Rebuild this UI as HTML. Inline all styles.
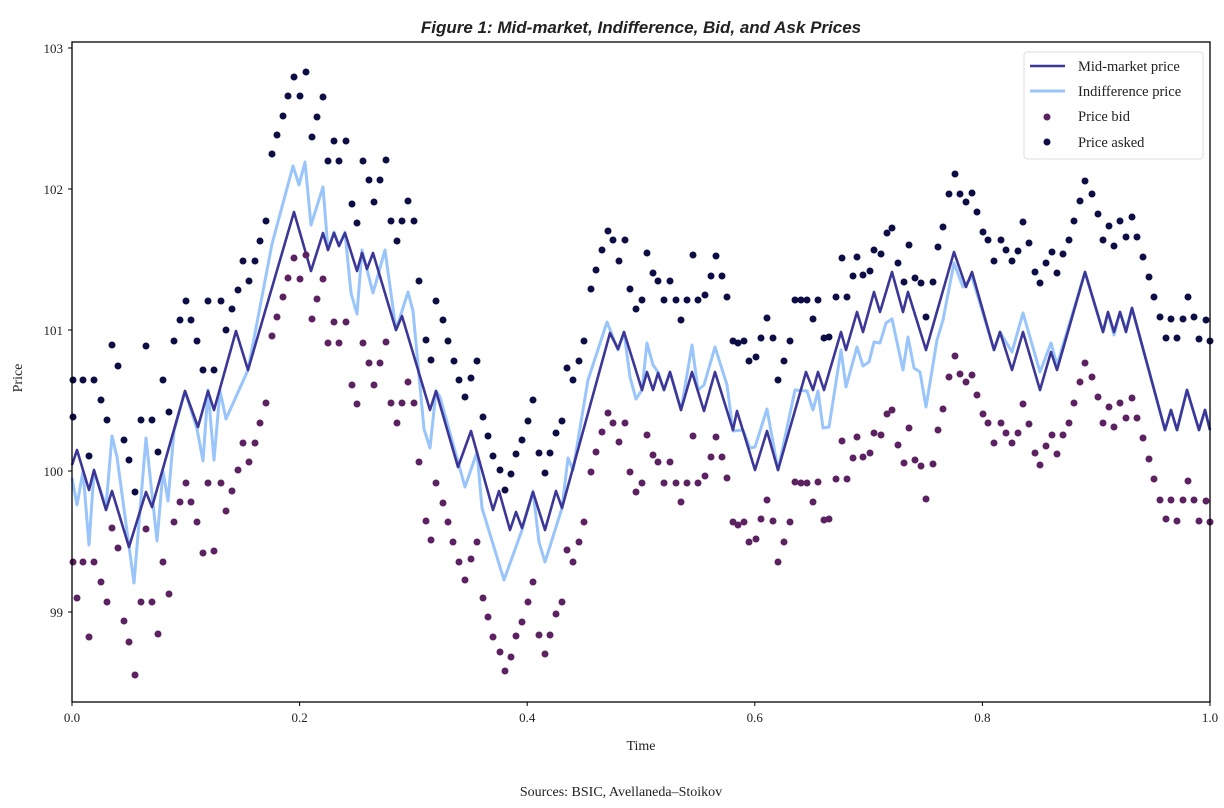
<!DOCTYPE html>
<html><head><meta charset="utf-8"><style>
html,body{margin:0;padding:0;background:#fff;width:1224px;height:808px;overflow:hidden}
svg{display:block}
text{font-family:"Liberation Serif",serif;fill:#222}
</style></head><body>
<svg width="1224" height="808" viewBox="0 0 1224 808" xmlns="http://www.w3.org/2000/svg">
<rect width="1224" height="808" fill="#fff"/>
<text x="641" y="33" text-anchor="middle" font-family="Liberation Sans" font-weight="bold" font-style="italic" font-size="17" style="font-family:'Liberation Sans',sans-serif">Figure 1: Mid-market, Indifference, Bid, and Ask Prices</text>
<g fill="none" stroke-linejoin="round">
<polyline stroke="#99c5fb" stroke-width="3" points="72,478 77,505 83,471 89,545 94,471 106,507 112,436 117,457 134,583 146,438 157,541 163,471 168,501 174,431 185,391 197,429 203,461 208,390 214,460 220,391 226,419 248,370 272,244 293,166 299,185 305,162 311,225 323,187 328,250 334,232 339,246 345,232 351,293 357,314 362,250 373,293 385,250 396,330 408,292 413,311 424,429 430,448 436,391 440,397 465,487 477,452 482,508 504,580 522,530 533,491 539,542 545,562 562,508 568,458 573,470 588,380 607,322 618,350 624,332 630,377 636,399 642,390 647,343 653,365 658,372 664,390 670,372 681,410 692,345 698,390 704,385 715,347 727,385 733,431 743,430 750,448 755,447 767,409 778,470 795,390 807,391 813,410 818,391 823,428 829,427 841,350 846,387 857,347 863,366 869,362 874,342 880,343 886,323 892,319 903,370 908,337 914,368 920,372 926,407 937,340 943,320 954,263 963,287 972,277 994,350 1000,332 1012,352 1023,313 1040,372 1051,343 1057,365 1085,272 1103,332 1108,313 1114,335 1120,312 1126,330 1132,308 1165,430 1171,410 1177,430 1187,390 1199,430 1205,410 1210,430"/>
<polyline stroke="#3c3796" stroke-width="2.6" points="72,465 77,450 89,490 94,470 106,510 112,491 129,547 146,492 152,507 185,391 198,427 208,391 214,410 236,331 248,370 294,212 311,271 323,233 328,250 334,233 339,246 345,233 357,271 362,253 367,269 373,253 396,330 402,316 430,410 436,391 458,467 471,431 493,510 499,491 510,530 516,512 522,528 533,492 545,530 556,491 562,508 610,333 618,349 624,332 642,390 647,372 653,390 658,373 664,390 670,372 681,410 692,372 704,411 715,372 733,430 737,411 755,470 767,431 778,470 806,372 813,390 818,372 824,390 841,332 846,350 857,312 863,332 874,292 880,312 892,272 903,312 908,292 926,350 954,252 966,287 972,272 994,350 1000,332 1012,370 1023,332 1040,390 1051,352 1057,370 1085,272 1103,332 1108,312 1114,332 1120,312 1126,332 1132,308 1165,430 1171,410 1177,430 1187,390 1199,430 1205,410 1210,430"/>
<path stroke="#0d0d45" stroke-width="7" stroke-linecap="round" d="M73 380h0M73 417h0M83 380h0M89 456h0M94 380h0M101 400h0M107 420h0M112 345h0M118 366h0M124 440h0M129 460h0M135 492h0M141 420h0M146 346h0M152 420h0M158 452h0M163 380h0M169 412h0M174 341h0M180 320h0M186 301h0M191 320h0M197 341h0M203 370h0M208 301h0M214 370h0M221 301h0M226 330h0M232 309h0M238 290h0M243 261h0M249 281h0M255 261h0M260 241h0M266 221h0M272 154h0M277 135h0M283 116h0M288 96h0M294 77h0M300 96h0M306 72h0M312 137h0M317 117h0M323 97h0M328 161h0M334 141h0M339 161h0M346 141h0M352 204h0M357 223h0M363 161h0M369 180h0M374 202h0M380 180h0M386 160h0M391 221h0M397 241h0M402 221h0M408 201h0M414 221h0M419 281h0M426 340h0M431 360h0M436 301h0M443 320h0M448 341h0M454 361h0M459 380h0M465 397h0M471 378h0M477 361h0M483 417h0M488 436h0M493 456h0M500 470h0M505 490h0M511 474h0M516 454h0M522 440h0M528 421h0M533 400h0M539 453h0M545 473h0M550 453h0M556 433h0M562 421h0M567 368h0M573 380h0M579 361h0M584 341h0M591 289h0M596 270h0M602 250h0M608 231h0M613 240h0M619 261h0M625 240h0M630 289h0M636 309h0M642 300h0M647 253h0M653 273h0M658 281h0M664 300h0M670 281h0M676 300h0M681 320h0M687 300h0M693 255h0M698 300h0M705 295h0M711 276h0M716 256h0M722 276h0M727 297h0M733 341h0M738 343h0M744 341h0M749 361h0M756 357h0M761 338h0M767 318h0M773 338h0M778 380h0M784 361h0M790 341h0M795 300h0M801 300h0M807 300h0M813 319h0M818 300h0M824 338h0M829 337h0M836 297h0M842 258h0M847 297h0M853 276h0M857 257h0M863 275h0M870 271h0M874 250h0M881 254h0M887 233h0M892 228h0M898 263h0M904 282h0M909 245h0M915 278h0M921 283h0M926 317h0M933 282h0M938 247h0M943 227h0M949 194h0M955 174h0M960 194h0M966 202h0M972 193h0M977 212h0M983 232h0M988 240h0M994 261h0M1001 240h0M1006 250h0M1012 261h0M1018 251h0M1023 222h0M1029 243h0M1035 272h0M1040 283h0M1046 263h0M1052 252h0M1057 273h0M1063 254h0M1069 240h0M1074 221h0M1080 201h0M1085 181h0M1092 194h0M1098 214h0M1103 240h0M1109 226h0M1114 246h0M1120 221h0M1126 237h0M1132 217h0M1137 237h0M1143 257h0M1149 277h0M1154 297h0M1160 317h0M1166 338h0M1171 319h0M1177 338h0M1183 319h0M1188 297h0M1194 317h0M1199 339h0M1206 320h0M1210 341h0"/>
<path stroke="#5c2160" stroke-width="7" stroke-linecap="round" d="M73 562h0M77 598h0M83 562h0M89 637h0M94 562h0M101 582h0M107 602h0M112 528h0M118 548h0M124 621h0M129 642h0M135 675h0M141 602h0M146 529h0M152 602h0M158 634h0M163 562h0M169 594h0M174 522h0M180 502h0M186 483h0M191 502h0M197 522h0M203 553h0M208 483h0M214 551h0M221 483h0M226 511h0M232 491h0M238 470h0M243 443h0M249 462h0M255 443h0M260 423h0M266 403h0M272 336h0M277 317h0M283 297h0M288 278h0M294 258h0M300 279h0M306 255h0M312 319h0M317 299h0M323 279h0M328 343h0M334 322h0M339 343h0M346 322h0M352 385h0M357 404h0M363 343h0M369 363h0M374 385h0M380 363h0M386 342h0M391 403h0M397 423h0M402 403h0M408 382h0M414 403h0M419 462h0M426 521h0M431 540h0M436 483h0M443 503h0M448 522h0M453 542h0M459 562h0M465 580h0M471 559h0M477 542h0M483 598h0M488 617h0M493 637h0M500 652h0M505 671h0M511 657h0M516 636h0M522 622h0M528 602h0M533 582h0M539 635h0M545 654h0M550 635h0M556 614h0M562 602h0M567 550h0M573 562h0M579 542h0M584 522h0M591 472h0M596 452h0M602 432h0M608 413h0M613 423h0M619 442h0M625 423h0M630 472h0M636 492h0M642 483h0M647 435h0M653 455h0M658 462h0M664 483h0M670 462h0M676 483h0M681 502h0M687 483h0M693 436h0M698 483h0M705 476h0M711 457h0M716 437h0M722 457h0M727 478h0M733 522h0M738 525h0M744 522h0M749 542h0M756 539h0M761 519h0M767 500h0M773 521h0M778 562h0M784 542h0M790 522h0M795 482h0M801 483h0M807 483h0M813 502h0M818 482h0M824 520h0M829 519h0M836 479h0M842 441h0M847 479h0M853 458h0M857 437h0M863 457h0M870 453h0M874 433h0M881 435h0M887 414h0M892 410h0M898 445h0M904 463h0M909 428h0M915 460h0M921 466h0M926 499h0M933 464h0M938 430h0M943 409h0M949 377h0M955 356h0M960 374h0M966 382h0M972 375h0M977 395h0M983 414h0M988 423h0M994 443h0M1001 423h0M1006 433h0M1012 443h0M1018 433h0M1023 404h0M1029 424h0M1035 453h0M1040 465h0M1046 446h0M1052 435h0M1057 454h0M1063 435h0M1069 423h0M1074 403h0M1080 382h0M1085 363h0M1092 377h0M1098 397h0M1103 423h0M1109 407h0M1114 427h0M1120 403h0M1126 418h0M1132 398h0M1137 418h0M1143 438h0M1149 459h0M1154 479h0M1160 500h0M1166 519h0M1171 500h0M1177 521h0M1183 500h0M1188 481h0M1194 500h0M1199 521h0M1206 501h0M1210 522h0"/>
</g>
<rect x="72" y="42" width="1138" height="660" fill="none" stroke="#000" stroke-width="1.3"/>
<g stroke="#000" stroke-width="1">
<line x1="68" y1="48" x2="72" y2="48"/><line x1="68" y1="189" x2="72" y2="189"/><line x1="68" y1="330" x2="72" y2="330"/><line x1="68" y1="471" x2="72" y2="471"/><line x1="68" y1="612" x2="72" y2="612"/>
<line x1="72" y1="702" x2="72" y2="706"/><line x1="299.6" y1="702" x2="299.6" y2="706"/><line x1="527.2" y1="702" x2="527.2" y2="706"/><line x1="754.8" y1="702" x2="754.8" y2="706"/><line x1="982.4" y1="702" x2="982.4" y2="706"/><line x1="1210" y1="702" x2="1210" y2="706"/>
</g>
<g font-size="13" text-anchor="end">
<text x="63" y="53">103</text><text x="63" y="194">102</text><text x="63" y="335">101</text><text x="63" y="476">100</text><text x="63" y="617">99</text>
</g>
<g font-size="13" text-anchor="middle">
<text x="72" y="722">0.0</text><text x="299.6" y="722">0.2</text><text x="527.2" y="722">0.4</text><text x="754.8" y="722">0.6</text><text x="982.4" y="722">0.8</text><text x="1210" y="722">1.0</text>
<text x="641" y="750" font-size="14">Time</text>
<text x="621" y="796" font-size="14">Sources: BSIC,  Avellaneda–Stoikov</text>
<text transform="translate(22,378) rotate(-90)" font-size="14">Price</text>
</g>
<rect x="1024" y="52" width="179" height="107" rx="3" fill="#fff" stroke="#ddd" stroke-width="1"/>
<line x1="1030" y1="66" x2="1065" y2="66" stroke="#3c3796" stroke-width="2.6"/>
<line x1="1030" y1="91" x2="1065" y2="91" stroke="#99c5fb" stroke-width="3"/>
<circle cx="1047" cy="117" r="3.5" fill="#5c2160"/>
<circle cx="1047" cy="142" r="3.5" fill="#0d0d45"/>
<g font-size="14.5">
<text x="1078" y="71">Mid-market price</text>
<text x="1078" y="96">Indifference price</text>
<text x="1078" y="121">Price bid</text>
<text x="1078" y="147">Price asked</text>
</g>
</svg>
</body></html>
